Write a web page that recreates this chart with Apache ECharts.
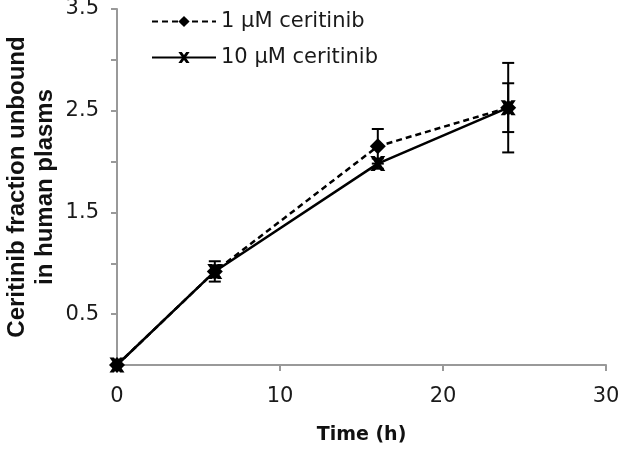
<!DOCTYPE html>
<html><head><meta charset="utf-8">
<script src="https://cdn.jsdelivr.net/npm/echarts@6/dist/echarts.min.js"></script>
<style>html,body{margin:0;padding:0;background:#fff}#c{width:625px;height:449px}</style>
</head><body><div id="c"></div>
<script>
var times = [0, 6, 16, 24];
var s1Name = '1 μM ceritinib';
var s2Name = '10 μM ceritinib';
var s1Values = [0, 0.92, 2.15, 2.53];
var s1Err = [0, 0.10, 0.17, 0.24];
var s2Values = [0, 0.92, 1.98, 2.53];
var s2Err = [0, 0.06, 0.05, 0.44];
var xTicks = [0, 10, 20, 30];
var yTickLabels = ['0.5', '1.5', '2.5', '3.5'];

var crossPath = 'path://M0,0L3,0L5,2.8L7,0L10,0L6.6,5L10,10L7,10L5,7.2L3,10L0,10L3.4,5Z';

function pairs(v){ return times.map(function(t,i){return [t, v[i]];}); }
function errs(v,e){ return times.map(function(t,i){return [t, v[i]-e[i], v[i]+e[i]];}).filter(function(d,i){return e[i]>0;}); }

function errRender(params, api){
  var x = api.value(0);
  var lo = api.coord([x, api.value(1)]);
  var hi = api.coord([x, api.value(2)]);
  var w = 6;
  var st = {stroke:'#000', lineWidth:2};
  return {type:'group', children:[
    {type:'line', shape:{x1:lo[0],y1:lo[1],x2:hi[0],y2:hi[1]}, style:st},
    {type:'line', shape:{x1:lo[0]-w,y1:lo[1],x2:lo[0]+w,y2:lo[1]}, style:st},
    {type:'line', shape:{x1:hi[0]-w,y1:hi[1],x2:hi[0]+w,y2:hi[1]}, style:st}
  ]};
}

var WIDE = 'DejaVu Sans, Verdana, sans-serif';
var ARIAL = 'Liberation Sans, Arial, sans-serif';
var chart = echarts.init(document.getElementById('c'));
chart.setOption({
  animation:false,
  textStyle:{fontFamily:WIDE},
  grid:{left:117, right:19, top:9, bottom:84, containLabel:false, outerBoundsMode:'none'},
  legend:{
    left:146, top:6, orient:'vertical', itemGap:15, itemWidth:64, itemHeight:14,
    textStyle:{fontSize:21, color:'#1a1a1a', fontFamily:WIDE},
    data:[s1Name, s2Name]
  },
  xAxis:{
    type:'value', min:0, max:30, interval:10,
    name:'Time (h)', nameLocation:'middle', nameGap:61, nameMoveOverlap:false,
    nameTextStyle:{fontSize:19, fontWeight:'bold', color:'#111', fontFamily:WIDE},
    axisLine:{lineStyle:{color:'#999', width:2}},
    axisTick:{show:true, length:6, lineStyle:{color:'#999', width:2}},
    axisLabel:{fontSize:21, color:'#1a1a1a', margin:21, fontFamily:WIDE},
    splitLine:{show:false}
  },
  yAxis:{
    type:'value', min:0, max:3.5, interval:0.5,
    name:'Ceritinib fraction unbound\nin human plasms', nameLocation:'middle', nameGap:58, nameMoveOverlap:false,
    nameTextStyle:{fontSize:24, fontWeight:'bold', color:'#111', lineHeight:28, fontFamily:ARIAL},
    axisLine:{show:true, lineStyle:{color:'#999', width:2}},
    axisTick:{show:true, length:6, lineStyle:{color:'#999', width:2}},
    axisLabel:{fontSize:21, color:'#1a1a1a', margin:18, fontFamily:WIDE, formatter:function(v){
      var s = v.toFixed(1); return yTickLabels.indexOf(s) >= 0 ? s : '';
    }},
    splitLine:{show:false}
  },
  series:[
    {name:'err1', type:'custom', renderItem:errRender, data:errs(s1Values,s1Err), z:1, silent:true},
    {name:'err2', type:'custom', renderItem:errRender, data:errs(s2Values,s2Err), z:1, silent:true},
    {name:s1Name, type:'line', data:pairs(s1Values), symbol:'diamond', symbolSize:16,
     lineStyle:{color:'#000', width:2.5, type:[6,4]}, itemStyle:{color:'#000'}, z:3},
    {name:s2Name, type:'line', data:pairs(s2Values), symbol:crossPath, symbolSize:15,
     lineStyle:{color:'#000', width:2.5, type:'solid'}, itemStyle:{color:'#000'}, z:4}
  ]
});
</script></body></html>
